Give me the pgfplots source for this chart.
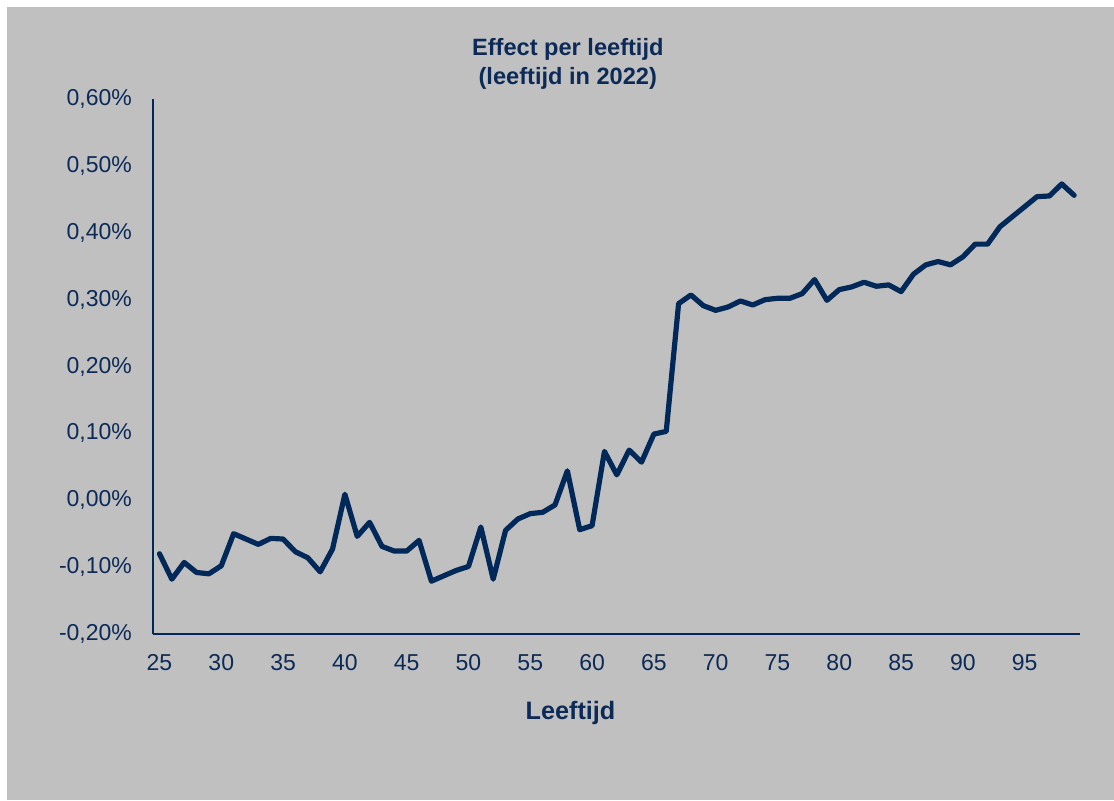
\documentclass[border=0pt]{standalone}
\usepackage{pgfplots}
\pgfplotsset{compat=1.18}
\usepackage{pgfplotstable}
\usepackage{fontspec}
\setmainfont{Liberation Sans}
\definecolor{bgc}{RGB}{192,192,192}
\definecolor{navy}{RGB}{0,41,90}
\definecolor{txt}{RGB}{12,42,88}
\pgfplotstableread{
age val
25 -0.080
26 -0.118
27 -0.093
28 -0.108
29 -0.110
30 -0.098
31 -0.050
32 -0.058
33 -0.066
34 -0.057
35 -0.058
36 -0.077
37 -0.086
38 -0.107
39 -0.073
40 0.009
41 -0.054
42 -0.033
43 -0.069
44 -0.076
45 -0.076
46 -0.060
47 -0.121
48 -0.113
49 -0.105
50 -0.099
51 -0.040
52 -0.118
53 -0.045
54 -0.028
55 -0.020
56 -0.018
57 -0.007
58 0.044
59 -0.044
60 -0.038
61 0.073
62 0.038
63 0.075
64 0.057
65 0.099
66 0.103
67 0.294
68 0.307
69 0.291
70 0.284
71 0.289
72 0.298
73 0.292
74 0.300
75 0.302
76 0.302
77 0.309
78 0.330
79 0.299
80 0.315
81 0.319
82 0.326
83 0.320
84 0.322
85 0.312
86 0.338
87 0.352
88 0.357
89 0.352
90 0.364
91 0.383
92 0.383
93 0.409
94 0.424
95 0.439
96 0.454
97 0.455
98 0.473
99 0.456
}\datatable
\begin{document}
\begin{tikzpicture}
\fill[white] (0,0) rectangle (557pt,400pt);
\fill[bgc] (3.5pt,0) rectangle (557pt,396.5pt);
\begin{axis}[
  at={(76.65pt,83pt)}, anchor=south west,
  scale only axis, width=463.5pt, height=267.5pt,
  xmin=24.5, xmax=99.5, ymin=-0.2, ymax=0.6,
  axis x line*=bottom, axis y line*=left,
  axis line style={draw=navy, line width=1pt, -},
  major tick length=0pt,
  xtick={25,30,...,95},
  ytick={-0.2,-0.1,0,0.1,0.2,0.3,0.4,0.5,0.6},
  yticklabels={{-0,20\%},{-0,10\%},{0,00\%},{0,10\%},{0,20\%},{0,30\%},{0,40\%},{0,50\%},{0,60\%}},
  /pgf/number format/assume math mode=true,
  ticklabel style={font=\fontsize{11.5}{13}\selectfont, text=txt},
  yticklabel style={anchor=east, inner sep=0pt, xshift=-10.5pt},
  xticklabel style={anchor=north, inner sep=0pt, yshift=-10pt},
  clip=false,
]
\addplot[navy, line width=2.6pt, line join=round, line cap=round] table[x=age, y=val] {\datatable};
\end{axis}
\node[anchor=base, font=\bfseries\fontsize{11.8}{14}\selectfont, text=txt] at (283.9pt,372pt) {Effect per leeftijd};
\node[anchor=base, font=\bfseries\fontsize{11.8}{14}\selectfont, text=txt] at (283.9pt,357.85pt) {(leeftijd in 2022)};
\node[anchor=base, font=\bfseries\fontsize{12.6}{15}\selectfont, text=txt] at (285.25pt,40.35pt) {Leeftijd};
\end{tikzpicture}
\end{document}
